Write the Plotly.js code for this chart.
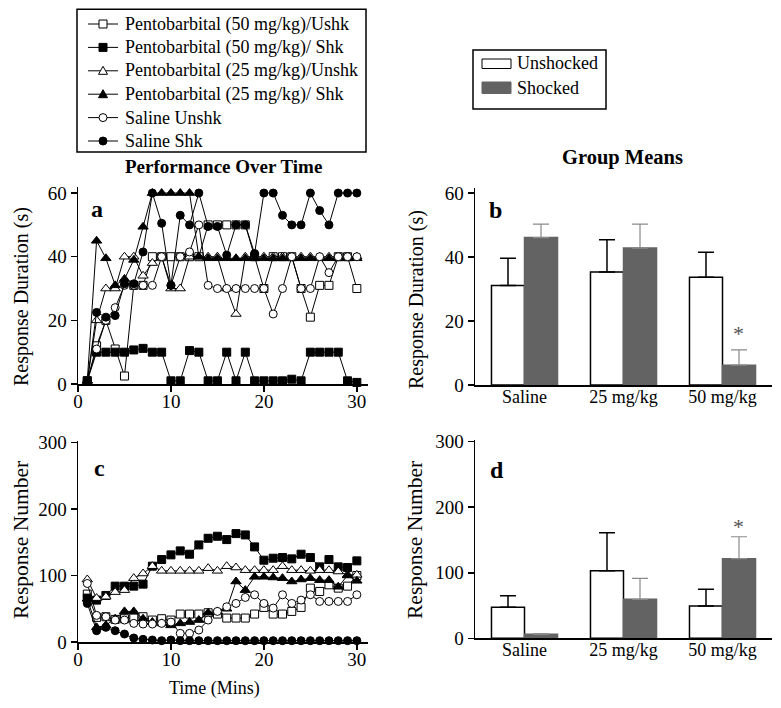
<!DOCTYPE html>
<html><head><meta charset="utf-8">
<script src="https://cdn.plot.ly/plotly-3.0.1.min.js"></script>
<style>html,body{margin:0;padding:0;background:#fff}#chart{width:781px;height:708px}</style>
</head><body><div id="chart"></div>
<script>
// ---------- data ----------
const minutes = [1,2,3,4,5,6,7,8,9,10,11,12,13,14,15,16,17,18,19,20,21,22,23,24,25,26,27,28,29,30];
const seriesNames = ["Pentobarbital (50 mg/kg)/Ushk","Pentobarbital (50 mg/kg)/ Shk","Pentobarbital (25 mg/kg)/Unshk","Pentobarbital (25 mg/kg)/ Shk","Saline Unshk","Saline Shk"];

// Panel a: response duration (s) per minute
const durP50U = [1,12,20,11,2.5,31,31,40,40,40,40,40,40,50,50,50,50,50,40,30,40,40,40,30,21,31,31,40,40,30];
const durP50S = [1,10,10,10,10,10.7,11.2,10,10,1,1,10.5,10,1,1,10,1,10,1,1,1,1,1.5,1,10,10,10,10,1,0.5];
const durP25U = [1,20,30,30,40,40,34,38,40,30,30,40,40,40,40,30,22,40,40,40,40,40,40,40,40,40,40,40,40,40];
const durP25S = [1,45,39.5,31,33,39,49.4,60,60,60,60,60,40,39.5,39.5,39.5,39.5,39.5,39.5,39.5,39.5,39.5,39.5,39.5,39.5,39.5,39.5,39.5,39.5,39.5];
const durSalU = [1,11,20,24,31,31,31,31,40,31,40,41.5,50,31,30,30,30,30,30,30,22,30,40,30,30,40,35,40,40,40];
const durSalS = [1,22.5,21,21.5,31.5,31.5,41.5,60,50.5,31,53,50,60,49.5,49.5,40.5,50,50,41,60,60,53,50,50,60,54.5,50,60,60,60];

// Panel c: response number per minute
const numP50U = [72,37,38,34,35,36,38,33,35,33,42,42,42,44,42,36,36,36,42,52,42,42,46,52,81,76,86,81,84,100];
const numP50S = [66,63,70,84,84,84,87,114,124,131,137,132,146,156,159,154,163,161,143,123,126,127,125,132,127,113,124,113,112,122];
const numP25U = [94,66,68,75,78,96,103,114,107,107,107,107,107,111,107,114,112,108,108,108,108,114,108,108,107,108,108,106,101,101];
const numP25S = [65,22,25,35,46,46,35,30,28,25,28,30,33,44,46,50,91,78,98,98,97,96,91,94,96,93,93,83,100,92];
const numSalU = [88,40,38,33,33,28,27,27,28,30,13,13,18,33,46,53,58,67,71,58,51,71,58,63,71,61,61,61,61,71];
const numSalS = [58,17,22,17,12,6,4,3,2,3,2,2,2,2,2,2,2,2,2,2,2,2,2,2,2,2,2,2,2,2];

// Panels b & d: group means
const groups = ["Saline","25 mg/kg","50 mg/kg"];
const durUnshocked = [31.1,35.3,33.7];
const durUnshockedErr = [8.5,10.1,7.8];
const durShocked = [46.1,42.8,6.2];
const durShockedErr = [4.2,7.5,4.8];
const numUnshocked = [47.3,103,49.3];
const numUnshockedErr = [17.7,58,25.5];
const numShocked = [6,59.5,121.5];
const numShockedErr = [1,32,33.5];
const noErr = [0,0,0];

// ---------- helpers ----------
const W = 781, H = 708;
const X = p => p / W;
const Y = p => (H - p) / H;
const FONT = "Liberation Serif, Times New Roman, serif";

const symbols = ["square","square","triangle-up","triangle-up","circle","circle"];
const filled = [false,true,false,true,false,true];
const durSeries = [durP50U,durP50S,durP25U,durP25S,durSalU,durSalS];
const numSeries = [numP50U,numP50S,numP25U,numP25S,numSalU,numSalS];

function lineTrace(y, i, xa, ya) {
  return {
    type: "scatter", mode: "lines+markers", name: seriesNames[i],
    x: minutes, y: y, xaxis: xa, yaxis: ya, showlegend: false, cliponaxis: false,
    line: {color: "#000", width: 1},
    marker: {symbol: symbols[i], size: symbols[i] === "triangle-up" ? 9 : 8,
             color: filled[i] ? "#000" : "#fff", line: {color: "#000", width: 1}}
  };
}

const traces = [];
durSeries.forEach((s, i) => traces.push(lineTrace(s, i, "x", "y")));
numSeries.forEach((s, i) => traces.push(lineTrace(s, i, "x2", "y2")));

const GRAY = "#636363";
function barTrace(vals, errs, shocked, xa, ya) {
  return {
    type: "bar", x: groups, y: vals, xaxis: xa, yaxis: ya, showlegend: false,
    name: shocked ? "Shocked" : "Unshocked",
    marker: {color: shocked ? GRAY : "#fff", line: {color: shocked ? GRAY : "#000", width: 1.5}},
    error_y: {type: "data", symmetric: false, array: errs, arrayminus: noErr,
              color: shocked ? "#8a8a8a" : "#000", thickness: shocked ? 1.2 : 1.5, width: 8}
  };
}
traces.push(barTrace(durUnshocked, durUnshockedErr, false, "x3", "y3"));
traces.push(barTrace(durShocked, durShockedErr, true, "x3", "y3"));
traces.push(barTrace(numUnshocked, numUnshockedErr, false, "x4", "y4"));
traces.push(barTrace(numShocked, numShockedErr, true, "x4", "y4"));

const axBase = {showline: true, linecolor: "#000", linewidth: 1.5, showgrid: false, zeroline: false,
  ticks: "outside", ticklen: 6, tickwidth: 1.5, tickcolor: "#000", automargin: false,
  tickfont: {family: FONT, size: 19, color: "#000"}, fixedrange: true};

const layout = {
  width: W, height: H, margin: {l: 0, r: 0, t: 0, b: 0},
  paper_bgcolor: "#fff", plot_bgcolor: "rgba(0,0,0,0)",
  font: {family: FONT, color: "#000"}, showlegend: false,
  barmode: "group", bargap: 0.333, bargroupgap: 0,
  xaxis: Object.assign({}, axBase, {domain: [X(78), X(368)], range: [0, 31.2], anchor: "y", tickvals: [0,10,20,30], ticklabelstandoff: -6}),
  yaxis: Object.assign({}, axBase, {domain: [Y(384), Y(186.7)], range: [0, 62], anchor: "x", tickvals: [0,20,40,60]}),
  xaxis2: Object.assign({}, axBase, {domain: [X(78), X(368)], range: [0, 31.2], anchor: "y2", tickvals: [0,10,20,30], ticklabelstandoff: -6}),
  yaxis2: Object.assign({}, axBase, {domain: [Y(642), Y(440.5)], range: [0, 303], anchor: "x2", tickvals: [0,100,200,300]}),
  xaxis3: Object.assign({}, axBase, {domain: [X(475), X(772)], type: "category", range: [-0.5, 2.5], autorange: false, anchor: "y3", ticks: "", ticklabelstandoff: -5, tickfont: {family: FONT, size: 18, color: "#000"}}),
  yaxis3: Object.assign({}, axBase, {domain: [Y(385), Y(188)], range: [0, 61.6], anchor: "x3", tickvals: [0,20,40,60]}),
  xaxis4: Object.assign({}, axBase, {domain: [X(475), X(772)], type: "category", range: [-0.5, 2.5], autorange: false, anchor: "y4", ticks: "", ticklabelstandoff: -5, tickfont: {family: FONT, size: 18, color: "#000"}}),
  yaxis4: Object.assign({}, axBase, {domain: [Y(638.3), Y(440)], range: [0, 302.6], anchor: "x4", tickvals: [0,100,200,300]}),
  annotations: [],
  shapes: []
};

function ann(text, x, y, size, opts) {
  layout.annotations.push(Object.assign({text: text, x: X(x), y: Y(y), xref: "paper", yref: "paper",
    showarrow: false, xanchor: "center", yanchor: "middle",
    font: {family: FONT, size: size, color: "#000"}}, opts || {}));
}
ann("<b>Performance Over Time</b>", 223, 167, 19);
ann("<b>Group Means</b>", 622, 157, 20.5);
ann("<b>a</b>", 97, 209, 24);
ann("<b>b</b>", 496, 210, 24);
ann("<b>c</b>", 99, 468, 24);
ann("<b>d</b>", 497, 470, 24);
ann("Response Duration (s)", 21, 297, 20, {textangle: -90});
ann("Response Duration (s)", 416, 300, 20, {textangle: -90});
ann("Response Number", 21, 540, 21.5, {textangle: -90});
ann("Response Number", 415, 540, 21.5, {textangle: -90});
ann("Time (Mins)", 214, 688, 18);
ann("*", 738, 333, 22, {font: {family: FONT, size: 22, color: "#555"}});
ann("*", 738, 526, 22, {font: {family: FONT, size: 22, color: "#555"}});

// ---------- legend 1 (line series) ----------
layout.shapes.push({type: "rect", xref: "paper", yref: "paper", x0: X(77), x1: X(366), y0: Y(152), y1: Y(9.3),
  line: {color: "#000", width: 1.5}, fillcolor: "rgba(0,0,0,0)"});
seriesNames.forEach((name, i) => {
  const ry = 24 + 23.4 * i;
  layout.shapes.push({type: "line", xref: "paper", yref: "paper", x0: X(88), x1: X(118), y0: Y(ry), y1: Y(ry),
    line: {color: "#000", width: 1}});
  const base = {xref: "paper", yref: "paper", xsizemode: "pixel", ysizemode: "pixel", xanchor: X(103), yanchor: Y(ry),
    fillcolor: filled[i] ? "#000" : "#fff", line: {color: "#000", width: 1}};
  if (symbols[i] === "triangle-up") {
    layout.shapes.push(Object.assign({type: "path", path: "M -4.5 -3.5 L 4.5 -3.5 L 0 4.5 Z"}, base));
  } else {
    layout.shapes.push(Object.assign({type: symbols[i] === "square" ? "rect" : "circle", x0: -4, x1: 4, y0: -4, y1: 4}, base));
  }
  ann(name, 123, ry, 18, {xanchor: "left"});
});

// ---------- legend 2 (bars) ----------
layout.shapes.push({type: "rect", xref: "paper", yref: "paper", x0: X(473), x1: X(606), y0: Y(109), y1: Y(50),
  line: {color: "#000", width: 1.5}, fillcolor: "rgba(0,0,0,0)"});
layout.shapes.push({type: "rect", xref: "paper", yref: "paper", x0: X(482), x1: X(511), y0: Y(68.5), y1: Y(59),
  line: {color: "#000", width: 1}, fillcolor: "#fff"});
layout.shapes.push({type: "rect", xref: "paper", yref: "paper", x0: X(482), x1: X(511), y0: Y(93.5), y1: Y(82),
  line: {color: GRAY, width: 1}, fillcolor: GRAY});
ann("Unshocked", 515, 63, 18, {xanchor: "left"});
ann("Shocked", 515, 88, 18, {xanchor: "left"});

Plotly.newPlot("chart", traces, layout, {displayModeBar: false, staticPlot: true});
</script></body></html>
